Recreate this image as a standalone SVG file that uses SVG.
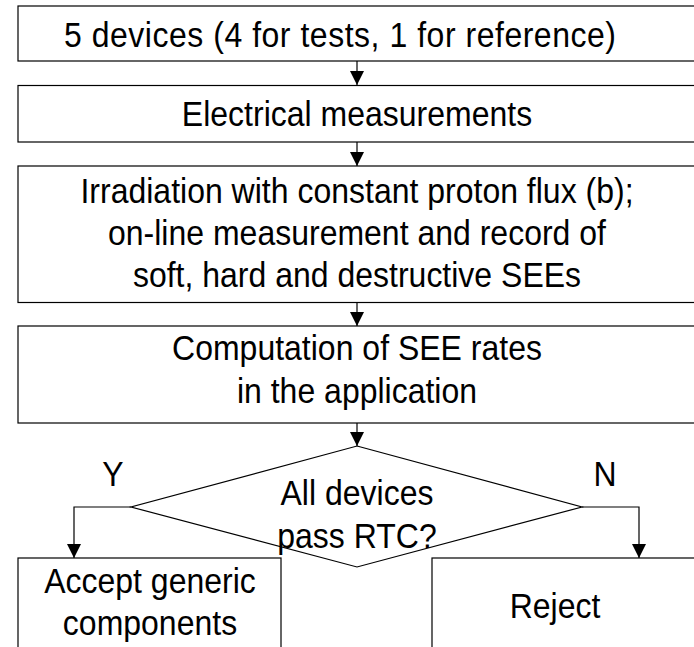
<svg xmlns="http://www.w3.org/2000/svg" width="694" height="647" viewBox="0 0 694 647">
<style>
.box{fill:#fff;stroke:#000;stroke-width:1.2}
.ln{fill:none;stroke:#000;stroke-width:1.2}
text{font-family:"Liberation Sans",Arial,sans-serif;font-size:32px;fill:#000;text-anchor:middle}
</style>
<defs>
<marker id="ah" viewBox="0 0 14 14" refX="14" refY="7" markerWidth="14" markerHeight="14" markerUnits="userSpaceOnUse" orient="auto">
<path d="M0,0 L14,7 L0,14 Z" fill="#000"/>
</marker>
</defs>
<rect width="694" height="647" fill="#fff"/>
<g id="n1"><rect class="box" x="18" y="6" width="690" height="55"/><text transform="matrix(1 0 0 1.12 0 46.5)" x="340" y="0" textLength="552">5 devices (4 for tests, 1 for reference)</text></g>
<g id="n2"><rect class="box" x="18" y="85.5" width="690" height="56.5"/><text transform="matrix(1 0 0 1.12 0 125.5)" x="357" y="0">Electrical measurements</text></g>
<g id="n3"><rect class="box" x="18" y="166" width="690" height="136.5"/><text transform="matrix(1 0 0 1.12 0 202.5)" x="357" y="0">Irradiation with constant proton flux (b);</text><text transform="matrix(1 0 0 1.12 0 244.5)" x="357" y="0">on-line measurement and record of</text><text transform="matrix(1 0 0 1.12 0 286.5)" x="357" y="0">soft, hard and destructive SEEs</text></g>
<g id="n4"><rect class="box" x="18" y="326" width="690" height="97"/><text transform="matrix(1 0 0 1.12 0 359.5)" x="357" y="0">Computation of SEE rates</text><text transform="matrix(1 0 0 1.12 0 402.5)" x="357" y="0">in the application</text></g>
<g id="n5"><path class="box" d="M357,446 L582,507 L357,567 L131,507 Z"/><text transform="matrix(1 0 0 1.12 0 504.5)" x="357" y="0">All devices</text><text transform="matrix(1 0 0 1.12 0 547.5)" x="357" y="0">pass RTC?</text></g>
<g id="n6"><rect class="box" x="18" y="558" width="263" height="110"/><text transform="matrix(1 0 0 1.12 0 592.5)" x="150" y="0">Accept generic</text><text transform="matrix(1 0 0 1.12 0 634.5)" x="150" y="0">components</text></g>
<g id="n7"><rect class="box" x="432" y="558" width="280" height="110"/><text transform="matrix(1 0 0 1.12 0 617.5)" x="555" y="0">Reject</text></g>
<g id="labels"><text transform="matrix(1 0 0 1.12 0 486)" x="113" y="0">Y</text><text transform="matrix(1 0 0 1.12 0 486)" x="605" y="0">N</text></g>
<g id="connectors">
<line class="ln" x1="357" y1="61" x2="357" y2="85" marker-end="url(#ah)"/>
<line class="ln" x1="357" y1="142" x2="357" y2="166" marker-end="url(#ah)"/>
<line class="ln" x1="357" y1="302.5" x2="357" y2="326" marker-end="url(#ah)"/>
<line class="ln" x1="357" y1="423" x2="357" y2="446" marker-end="url(#ah)"/>
<polyline class="ln" points="131,507 74,507 74,558" marker-end="url(#ah)"/>
<polyline class="ln" points="582,507 639,507 639,558" marker-end="url(#ah)"/>
</g>
</svg>
